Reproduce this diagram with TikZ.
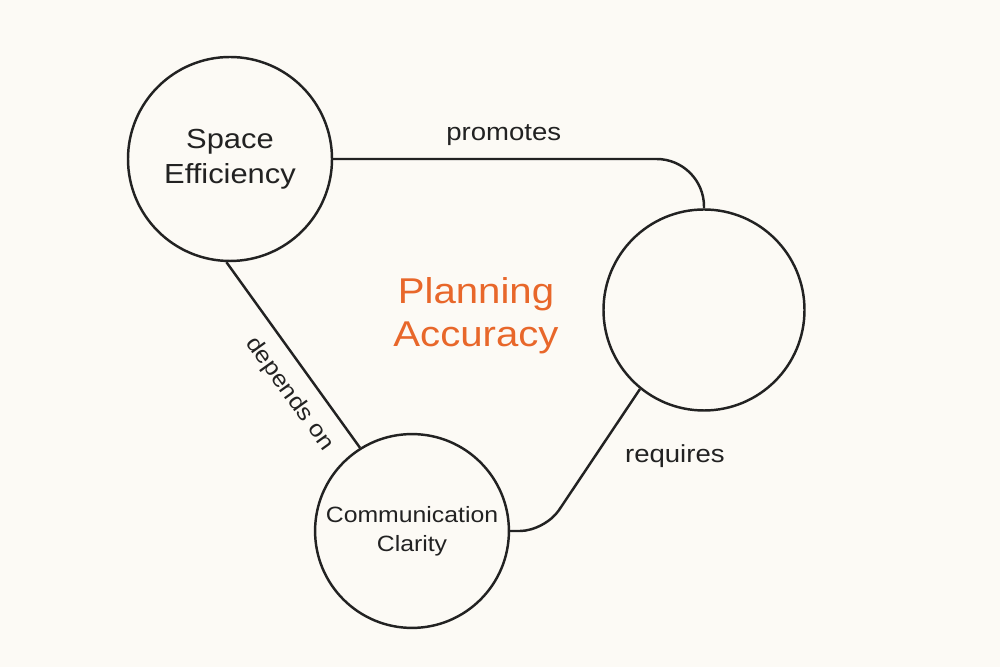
\documentclass[tikz,border=0pt]{standalone}
\usepackage{fontspec}
\setmainfont[FakeStretch=1.12]{Liberation Sans}
\usepackage{xcolor}
\definecolor{paper}{HTML}{FCFAF5}
\definecolor{ink}{HTML}{222222}
\definecolor{accent}{HTML}{E8672A}
\tikzset{
  topic/.style={circle, draw=ink, line width=1.4pt, align=center, text=ink},
  link/.style={draw=ink, line width=1.4pt},
  linklabel/.style={text=ink, inner sep=2pt, font=\fontsize{14}{16}\selectfont}
}

\begin{document}
\begin{tikzpicture}
  \fill[paper] (0,0) rectangle (20,13.34);
  \useasboundingbox (0,0) rectangle (20,13.34);

  \node[topic, minimum size=4.08cm, font=\fontsize{15.7}{19.9}\selectfont] (space) at (4.60,10.16) {Space\\Efficiency};
  \node[topic, minimum size=4.02cm] (goal) at (14.08,7.14) {};
  \node[topic, minimum size=3.86cm, font=\fontsize{12.6}{16.5}\selectfont] (comm) at (8.24,2.72) {Communication\\Clarity};
  \node[text=accent, align=center, font=\fontsize{20.4}{24.5}\selectfont] (plan) at (9.52,7.02) {Planning\\Accuracy};

  \coordinate (bend) at (10.90,2.72);

  \draw[link, rounded corners=0.95cm] (space.east) -| node[linklabel, pos=0.23, above=5pt] (promotes) {promotes} (goal.north);
  \draw[link] (space.268) -- node[linklabel, sloped, pos=0.63, below=6pt, font=\fontsize{13}{15}\selectfont] (depends) {depends on} (comm.122);
  \draw[link, rounded corners=0.5cm] (comm.east) -- (bend) -- node[linklabel, pos=0.53, right=0.5cm] (requires) {requires} (goal.231);
\end{tikzpicture}
\end{document}
